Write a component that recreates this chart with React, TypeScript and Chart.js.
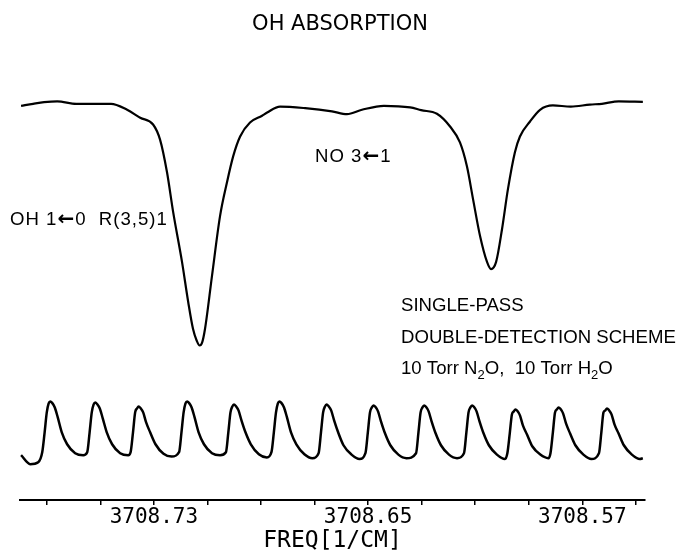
import React, { useEffect, useRef } from 'react';
import { Chart, registerables } from 'chart.js';

Chart.register(...registerables);

// ---- text ----
const chartTitle = 'OH ABSORPTION';
const axisTitle = 'FREQ[1/CM]';

// ---- x axis (frequency, cm^-1, decreasing to the right) ----
const freqMin = 3708.5466;
const freqMax = 3708.78;
const tickValues = [3708.77, 3708.75, 3708.73, 3708.71, 3708.69, 3708.67, 3708.65, 3708.63, 3708.61, 3708.59, 3708.57, 3708.55];
const labeledTicks = [3708.73, 3708.65, 3708.57];

// ---- absorption trace (upper) ----
const absFreq = [
  3708.7796, 3708.7751, 3708.7710, 3708.7661, 3708.7590, 3708.7460, 3708.7400, 3708.7351,
  3708.7303, 3708.7277, 3708.7251, 3708.7228, 3708.7195, 3708.7172, 3708.7154, 3708.7140,
  3708.7129, 3708.7120, 3708.7109, 3708.7083, 3708.7053, 3708.7027, 3708.7004, 3708.6978,
  3708.6941, 3708.6896, 3708.6877, 3708.6829, 3708.6735, 3708.6635, 3708.6579, 3708.6523,
  3708.6441, 3708.6343, 3708.6302, 3708.6243, 3708.6194, 3708.6157, 3708.6131, 3708.6108,
  3708.6082, 3708.6056, 3708.6041, 3708.6022, 3708.6000, 3708.5978, 3708.5952, 3708.5933,
  3708.5896, 3708.5858, 3708.5810, 3708.5743, 3708.5672, 3708.5627, 3708.5564, 3708.5474,
];
const absSignal = [
  99.0, 99.5, 99.9, 100.1, 99.5, 99.5, 98.0, 96.0,
  94.3, 90.5, 82.3, 72.3, 59.8, 49.8, 43.0, 40.0,
  38.8, 39.5, 43.0, 56.3, 71.3, 79.8, 86.3, 91.3,
  94.8, 96.5, 97.3, 98.8, 98.4, 97.6, 96.9, 98.0,
  99.0, 98.6, 97.9, 97.0, 93.8, 89.8, 83.8, 75.5,
  66.3, 59.8, 58.0, 59.8, 68.0, 78.0, 87.3, 91.3,
  95.0, 98.0, 99.1, 98.8, 99.3, 99.5, 100.1, 100.0,
];

// ---- etalon fringe trace (lower) ----
const etalonFreq = [
  3708.7796, 3708.7762, 3708.7732,
  3708.7717, 3708.7708, 3708.7700, 3708.7693, 3708.7687, 3708.7680, 3708.7670, 3708.7659, 3708.7644, 3708.7624, 3708.7594, 3708.7564,
  3708.7549, 3708.7540, 3708.7532, 3708.7525, 3708.7519, 3708.7512, 3708.7502, 3708.7491, 3708.7476, 3708.7456, 3708.7426, 3708.7396,
  3708.7387, 3708.7378, 3708.7370, 3708.7363, 3708.7357, 3708.7350, 3708.7340, 3708.7329, 3708.7314, 3708.7294, 3708.7264, 3708.7234,
  3708.7206, 3708.7197, 3708.7189, 3708.7182, 3708.7176, 3708.7169, 3708.7159, 3708.7148, 3708.7133, 3708.7113, 3708.7083, 3708.7053,
  3708.7031, 3708.7022, 3708.7014, 3708.7007, 3708.7001, 3708.6994, 3708.6984, 3708.6973, 3708.6958, 3708.6938, 3708.6908, 3708.6878,
  3708.6861, 3708.6852, 3708.6844, 3708.6837, 3708.6831, 3708.6824, 3708.6814, 3708.6803, 3708.6788, 3708.6768, 3708.6738, 3708.6708,
  3708.6685, 3708.6676, 3708.6668, 3708.6661, 3708.6655, 3708.6648, 3708.6638, 3708.6627, 3708.6612, 3708.6592, 3708.6562, 3708.6532,
  3708.6510, 3708.6501, 3708.6493, 3708.6486, 3708.6480, 3708.6473, 3708.6463, 3708.6452, 3708.6437, 3708.6417, 3708.6387, 3708.6357,
  3708.6321, 3708.6312, 3708.6304, 3708.6297, 3708.6291, 3708.6284, 3708.6274, 3708.6263, 3708.6248, 3708.6228, 3708.6198, 3708.6168,
  3708.6142, 3708.6133, 3708.6125, 3708.6118, 3708.6112, 3708.6105, 3708.6095, 3708.6084, 3708.6069, 3708.6049, 3708.6019, 3708.5989,
  3708.5980, 3708.5971, 3708.5963, 3708.5956, 3708.5950, 3708.5943, 3708.5933, 3708.5922, 3708.5907, 3708.5887, 3708.5857, 3708.5827,
  3708.5819, 3708.5810, 3708.5802, 3708.5795, 3708.5789, 3708.5782, 3708.5772, 3708.5761, 3708.5746, 3708.5726, 3708.5696, 3708.5666,
  3708.5638, 3708.5629, 3708.5621, 3708.5614, 3708.5608, 3708.5601, 3708.5591, 3708.5580, 3708.5565, 3708.5545, 3708.5515, 3708.5485,
  3708.5474,
];
const etalonSignal = [
  11.25, 9.0, 9.5,
  12.0, 17.0, 22.0, 24.25, 24.75, 24.4, 23.25, 20.75, 17.0, 14.0, 11.75, 11.25,
  12.0, 17.0, 22.0, 24.0, 24.5, 24.1, 23.0, 20.5, 17.0, 14.0, 11.75, 11.25,
  12.0, 17.0, 22.0, 23.0, 23.5, 23.1, 22.0, 19.5, 17.0, 14.0, 11.6, 10.9,
  12.0, 17.0, 22.0, 24.25, 24.75, 24.4, 23.25, 20.75, 17.0, 14.0, 11.75, 11.25,
  12.0, 17.0, 22.0, 23.5, 24.0, 23.6, 22.5, 20.0, 17.0, 14.0, 11.5, 10.7,
  12.0, 17.0, 22.0, 24.25, 24.75, 24.4, 23.25, 20.75, 17.0, 14.0, 11.5, 10.5,
  11.75, 17.0, 22.0, 23.5, 24.0, 23.6, 22.5, 20.0, 17.0, 13.75, 11.4, 10.3,
  11.75, 17.0, 22.0, 23.25, 23.75, 23.4, 22.25, 19.75, 16.75, 13.75, 11.4, 10.5,
  11.75, 17.0, 22.0, 23.25, 23.75, 23.4, 22.25, 19.75, 16.75, 13.75, 11.4, 10.5,
  11.75, 17.0, 22.0, 23.25, 23.75, 23.4, 22.25, 19.75, 16.75, 13.75, 11.4, 10.3,
  11.75, 16.75, 21.5, 22.25, 22.75, 22.4, 21.25, 18.75, 16.5, 13.5, 11.4, 10.5,
  11.75, 17.0, 22.0, 22.75, 23.25, 22.9, 21.75, 19.25, 16.75, 13.75, 11.4, 10.3,
  11.75, 17.0, 22.0, 22.5, 23.0, 22.6, 21.5, 19.0, 16.75, 13.75, 11.4, 10.3,
  10.5,
];

// ---- annotations (text, with subscripts and arrows) ----
type Part = [string, 'n' | 's' | 'a'];
const notes: { x: number; y: number; spacing: number; parts: Part[] }[] = [
  { x: 315, y: 157, spacing: 1, parts: [['NO 3', 'n'], ['\u2190', 'a'], ['1', 'n']] },
  { x: 10, y: 220, spacing: 1, parts: [['OH 1', 'n'], ['\u2190', 'a'], ['0  R(3,5)1', 'n']] },
  { x: 401, y: 306, spacing: 0, parts: [['SINGLE-PASS', 'n']] },
  { x: 401, y: 338, spacing: 0, parts: [['DOUBLE-DETECTION SCHEME', 'n']] },
  { x: 401, y: 369, spacing: 0, parts: [['10 Torr N', 'n'], ['2', 's'], ['O,  10 Torr H', 'n'], ['2', 's'], ['O', 'n']] },
];

const noteFont = '"Liberation Sans", Arial, sans-serif';

const notesPlugin = {
  id: 'notes',
  afterDraw(chart: any) {
    const ctx = chart.ctx as any;
    ctx.save();
    ctx.fillStyle = '#000';
    ctx.textAlign = 'left';
    ctx.textBaseline = 'middle';
    for (const n of notes) {
      let x = n.x;
      ctx.letterSpacing = `${n.spacing}px`;
      for (const [t, kind] of n.parts) {
        if (kind === 's') ctx.font = `13px ${noteFont}`;
        else if (kind === 'a') ctx.font = 'bold 20px "DejaVu Sans", sans-serif';
        else ctx.font = `18.6px ${noteFont}`;
        ctx.fillText(t, x, kind === 's' ? n.y + 6 : n.y);
        x += ctx.measureText(t).width;
      }
    }
    ctx.letterSpacing = '0px';
    ctx.restore();
  },
};

export default function App() {
  const ref = useRef<HTMLCanvasElement | null>(null);

  useEffect(() => {
    if (!ref.current) return;
    const chart = new Chart(ref.current, {
      type: 'line',
      data: {
        datasets: [
          {
            label: 'OH absorption',
            data: absFreq.map((f, i) => ({ x: f, y: absSignal[i] })),
            borderColor: '#000',
            borderWidth: 2.2,
            pointRadius: 0,
            fill: false,
            cubicInterpolationMode: 'monotone',
          },
          {
            label: 'Etalon',
            data: etalonFreq.map((f, i) => ({ x: f, y: etalonSignal[i] })),
            borderColor: '#000',
            borderWidth: 2.5,
            pointRadius: 0,
            fill: false,
            cubicInterpolationMode: 'monotone',
          },
        ],
      },
      options: {
        animation: false,
        responsive: false,
        layout: { padding: { left: 0, right: 0, top: 0, bottom: 1 } },
        plugins: {
          legend: { display: false },
          tooltip: { enabled: false },
          title: {
            display: true,
            text: chartTitle,
            color: '#000',
            font: { family: '"DejaVu Sans", sans-serif', size: 21, weight: 'normal', lineHeight: 1.2 },
            padding: { top: 12.4, bottom: 24.4 },
          },
        },
        scales: {
          x: {
            type: 'linear',
            reverse: true,
            min: freqMin,
            max: freqMax,
            afterBuildTicks: (s: any) => {
              s.ticks = tickValues.map((v) => ({ value: v }));
            },
            ticks: {
              autoSkip: false,
              maxRotation: 0,
              padding: 2,
              color: '#000',
              font: { family: '"DejaVu Sans Mono", monospace', size: 21, lineHeight: 1 },
              callback: (v: any) =>
                labeledTicks.some((t) => Math.abs(t - Number(v)) < 1e-6) ? Number(v).toFixed(2) : '',
            },
            grid: { display: true, drawOnChartArea: false, drawTicks: true, tickLength: 5, color: '#000', lineWidth: 1.5 },
            border: { display: true, color: '#000', width: 2 },
            title: {
              display: true,
              text: axisTitle,
              color: '#000',
              font: { family: '"DejaVu Sans Mono", monospace', size: 23, lineHeight: 1 },
              padding: { top: 0, bottom: 0 },
            },
          },
          y: {
            position: 'left',
            min: 0,
            max: 110,
            display: true,
            ticks: { display: false },
            grid: { display: false },
            border: { display: false },
            afterFit: (s: any) => {
              s.width = 20;
            },
          },
          y2: {
            position: 'right',
            display: true,
            ticks: { display: false },
            grid: { display: false },
            border: { display: false },
            afterFit: (s: any) => {
              s.width = 35;
            },
          },
        },
      },
      plugins: [notesPlugin],
    } as any);
    return () => chart.destroy();
  }, []);

  return (
    <div style={{ position: 'absolute', left: 0, top: 0, width: 680, height: 554, background: '#fff' }}>
      <canvas ref={ref} width={680} height={554} />
    </div>
  );
}
